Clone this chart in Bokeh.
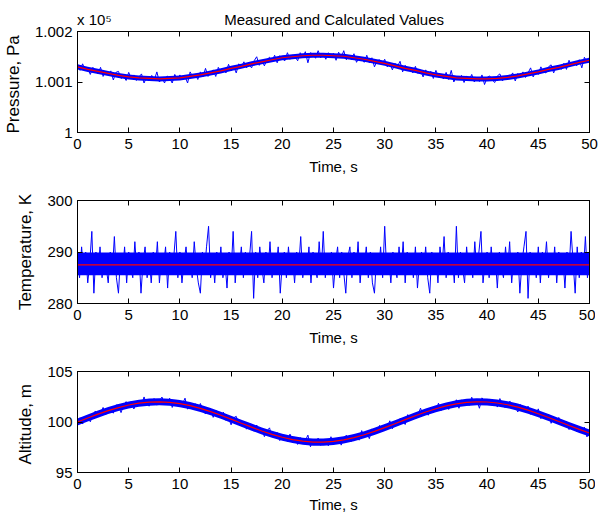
from bokeh.plotting import figure
from bokeh.models import Range1d, LinearAxis, FixedTicker, CustomLabelingPolicy
from bokeh.layouts import column
from bokeh.embed import file_html
from bokeh.resources import INLINE

FONT = "Liberation Sans"
BLUE = "#0000FF"
RED = "#FF0000"

title_text = "Measured and Calculated Values"
exp_text = "x 10\u2075"
x_ticks = [0, 5, 10, 15, 20, 25, 30, 35, 40, 45, 50]
p_ticks = [100000, 100100, 100200]
p_tick_labels = {100000: "1", 100100: "1.001", 100200: "1.002"}
temp_ticks = [280, 290, 300]
alt_ticks = [95, 100, 105]

# time axes
t_calc = list(range(51))
t_meas = [i / 4 for i in range(201)]
t_temp = [i / 5 for i in range(251)]

# ---- Pressure, Pa ----
pressure_calc = [100130, 100125, 100121, 100117, 100113, 100110, 100108, 100107, 100106, 100107,
                 100108, 100111, 100114, 100118, 100122, 100127, 100131, 100136, 100140, 100144,
                 100148, 100150, 100152, 100153, 100153, 100152, 100151, 100148, 100145, 100141,
                 100137, 100132, 100127, 100123, 100118, 100114, 100111, 100108, 100107, 100106,
                 100106, 100107, 100109, 100112, 100116, 100120, 100125, 100129, 100134, 100139,
                 100143]
pressure_lo = [100125, 100120, 100116, 100112, 100108, 100105, 100103, 100102, 100101, 100102,
               100103, 100106, 100109, 100113, 100117, 100122, 100126, 100131, 100135, 100139,
               100143, 100145, 100147, 100148, 100148, 100147, 100146, 100143, 100140, 100136,
               100132, 100127, 100122, 100118, 100113, 100109, 100106, 100103, 100102, 100101,
               100101, 100102, 100104, 100107, 100111, 100115, 100120, 100124, 100129, 100134,
               100138]
pressure_hi = [100135, 100130, 100126, 100122, 100118, 100115, 100113, 100112, 100111, 100112,
               100113, 100116, 100119, 100123, 100127, 100132, 100136, 100141, 100145, 100149,
               100153, 100155, 100157, 100158, 100158, 100157, 100156, 100153, 100150, 100146,
               100142, 100137, 100132, 100128, 100123, 100119, 100116, 100113, 100112, 100111,
               100111, 100112, 100114, 100117, 100121, 100125, 100130, 100134, 100139, 100144,
               100148]
pressure_meas = [
    100135, 100123, 100136, 100123, 100127, 100115, 100129, 100122, 100116, 100129,
    100111, 100121, 100115, 100122, 100104, 100119, 100121, 100107, 100111, 100103,
    100119, 100107, 100114, 100103, 100110, 100116, 100098, 100110, 100102, 100113,
    100104, 100120, 100100, 100109, 100098, 100112, 100107, 100098, 100115, 100105,
    100114, 100104, 100111, 100098, 100120, 100110, 100115, 100105, 100120, 100110,
    100127, 100111, 100118, 100124, 100111, 100129, 100119, 100125, 100118, 100135,
    100122, 100131, 100118, 100136, 100129, 100140, 100128, 100135, 100128, 100142,
    100150, 100133, 100143, 100132, 100144, 100149, 100141, 100153, 100138, 100152,
    100146, 100142, 100158, 100145, 100153, 100150, 100142, 100158, 100149, 100160,
    100138, 100158, 100155, 100147, 100162, 100148, 100156, 100145, 100158, 100150,
    100157, 100143, 100159, 100148, 100162, 100144, 100151, 100144, 100156, 100139,
    100149, 100146, 100139, 100153, 100138, 100148, 100130, 100142, 100144, 100135,
    100145, 100130, 100137, 100124, 100137, 100131, 100141, 100120, 100133, 100123,
    100127, 100118, 100131, 100117, 100123, 100110, 100124, 100115, 100121, 100107,
    100123, 100110, 100112, 100106, 100119, 100105, 100123, 100100, 100111, 100106,
    100113, 100099, 100112, 100104, 100115, 100100, 100108, 100101, 100114, 100095,
    100109, 100112, 100104, 100099, 100112, 100116, 100102, 100111, 100104, 100110,
    100118, 100102, 100117, 100110, 100120, 100109, 100118, 100128, 100110, 100122,
    100115, 100130, 100120, 100118, 100130, 100134, 100118, 100131, 100129, 100125,
    100137, 100125, 100143, 100132, 100138, 100132, 100144, 100128, 100149, 100139,
    100149]

# ---- Temperature, K ----
temp_calc = [287.5] * 51
temp_band_t = [0, 50]
temp_lo = [285.5, 285.5]
temp_hi = [289.9, 289.9]
temp_meas = [
    289, 285, 291, 286, 290, 284, 288, 294, 282, 290,
    286, 291, 285, 289, 287, 284, 290, 286, 293, 285,
    282, 289, 286, 291, 284, 290, 287, 285, 292, 286,
    290, 282, 288, 291, 285, 289, 284, 290, 286, 292,
    284, 289, 287, 291, 283, 290, 286, 289, 294, 285,
    290, 284, 288, 291, 286, 289, 285, 292, 287, 284,
    282, 290, 286, 291, 295, 285, 289, 284, 290, 286,
    291, 285, 288, 283, 290, 286, 294, 284, 289, 287,
    291, 285, 290, 286, 289, 294, 281, 290, 285, 291,
    287, 284, 290, 286, 292, 285, 289, 287, 291, 282,
    288, 290, 285, 291, 286, 289, 284, 290, 287, 293,
    285, 289, 286, 291, 284, 290, 287, 285, 292, 286,
    294, 285, 289, 286, 290, 283, 288, 291, 285, 290,
    286, 282, 289, 291, 285, 290, 286, 292, 284, 289,
    287, 291, 285, 290, 284, 282, 289, 286, 291, 285,
    295, 286, 289, 284, 290, 287, 285, 291, 286, 292,
    284, 290, 286, 289, 285, 291, 283, 288, 290, 286,
    291, 285, 282, 290, 286, 289, 284, 291, 287, 293,
    285, 290, 286, 289, 284, 295, 285, 290, 287, 284,
    291, 286, 289, 285, 292, 286, 290, 294, 284, 288,
    290, 285, 291, 286, 289, 283, 290, 287, 285, 291,
    286, 292, 284, 289, 286, 290, 282, 288, 291, 294,
    281, 290, 286, 289, 285, 291, 284, 290, 287, 292,
    285, 289, 286, 291, 284, 290, 286, 289, 283, 290,
    286, 294, 288, 282, 291, 285, 290, 286, 293, 285,
    289]

# ---- Altitude, m ----
alt_calc = [100.00, 100.40, 100.78, 101.13, 101.43, 101.68, 101.86, 101.97, 102.00, 101.95,
            101.82, 101.62, 101.35, 101.03, 100.67, 100.28, 99.88, 99.49, 99.11, 98.78,
            98.49, 98.26, 98.10, 98.01, 98.01, 98.08, 98.23, 98.45, 98.74, 99.07,
            99.44, 99.83, 100.23, 100.62, 100.99, 101.31, 101.59, 101.80, 101.94, 102.00,
            101.98, 101.88, 101.71, 101.47, 101.17, 100.82, 100.45, 100.05, 99.65, 99.27,
            98.91]
alt_lo = [99.65, 100.05, 100.43, 100.78, 101.08, 101.33, 101.51, 101.62, 101.65, 101.60,
          101.47, 101.27, 101.00, 100.68, 100.32, 99.93, 99.53, 99.14, 98.76, 98.43,
          98.14, 97.91, 97.75, 97.66, 97.66, 97.73, 97.88, 98.10, 98.39, 98.72,
          99.09, 99.48, 99.88, 100.27, 100.64, 100.96, 101.24, 101.45, 101.59, 101.65,
          101.63, 101.53, 101.36, 101.12, 100.82, 100.47, 100.10, 99.70, 99.30, 98.92,
          98.56]
alt_hi = [100.35, 100.75, 101.13, 101.48, 101.78, 102.03, 102.21, 102.32, 102.35, 102.30,
          102.17, 101.97, 101.70, 101.38, 101.02, 100.63, 100.23, 99.84, 99.46, 99.13,
          98.84, 98.61, 98.45, 98.36, 98.36, 98.43, 98.58, 98.80, 99.09, 99.42,
          99.79, 100.18, 100.58, 100.97, 101.34, 101.66, 101.94, 102.15, 102.29, 102.35,
          102.33, 102.23, 102.06, 101.82, 101.52, 101.17, 100.80, 100.40, 100.00, 99.62,
          99.26]
alt_meas = [
    99.84, 100.42, 99.80, 100.38, 100.64, 100.02, 100.75, 101.09, 100.54, 100.87,
    101.44, 100.72, 101.29, 101.13, 100.88, 101.68, 101.67, 100.93, 101.64, 102.02,
    101.52, 102.05, 101.29, 101.82, 102.10, 101.65, 102.48, 101.78, 101.57, 102.14,
    102.31, 101.67, 102.08, 102.47, 101.74, 101.88, 102.35, 101.44, 102.05, 102.09,
    101.50, 101.77, 102.36, 101.27, 101.70, 101.39, 101.81, 101.18, 101.83, 101.19,
    100.79, 101.27, 101.27, 100.46, 101.17, 100.60, 100.67, 100.97, 100.16, 100.46,
    99.72, 100.42, 100.56, 99.82, 99.64, 100.10, 99.29, 99.75, 99.57, 99.08,
    99.70, 99.13, 99.35, 98.55, 99.11, 99.42, 98.54, 98.55, 98.96, 98.16,
    98.49, 98.67, 98.06, 98.80, 98.18, 98.38, 97.78, 98.46, 97.86, 98.16,
    98.70, 97.55, 98.17, 97.85, 98.41, 97.69, 98.25, 97.95, 97.65, 98.54,
    97.84, 98.12, 98.48, 97.71, 98.39, 98.69, 98.18, 98.08, 98.69, 98.60,
    98.20, 99.15, 98.50, 98.98, 98.35, 99.31, 99.07, 99.00, 99.66, 99.03,
    99.68, 99.46, 100.12, 99.33, 99.99, 99.69, 100.35, 100.21, 99.75, 100.73,
    100.27, 100.76, 100.30, 100.71, 101.37, 100.66, 101.15, 100.67, 101.47, 101.15,
    101.07, 101.86, 101.13, 101.60, 101.75, 101.24, 101.94, 101.59, 102.20, 101.36,
    102.19, 101.83, 101.94, 101.64, 102.45, 101.75, 102.16, 101.36, 102.39, 102.07,
    101.74, 102.28, 101.77, 102.15, 101.48, 102.32, 101.72, 101.43, 101.87, 102.05,
    101.35, 101.53, 100.99, 101.72, 101.48, 101.01, 101.57, 100.76, 101.08, 100.75,
    101.30, 100.33, 100.88, 100.46, 100.77, 99.87, 100.41, 100.15, 100.45, 99.71,
    99.69, 100.07, 99.25, 99.80, 99.54, 99.05, 99.51, 99.02, 99.49, 98.52,
    99.07]


def no_labels():
    return CustomLabelingPolicy(code="return new Set()")


def make_fig(y_lo, y_hi, frame_h, top, bottom, y_label, y_ticks, label_standoff=6):
    p = figure(frame_width=512, frame_height=frame_h,
               x_range=Range1d(0, 50), y_range=Range1d(y_lo, y_hi),
               output_backend="svg", toolbar_location=None,
               min_border_left=71, min_border_right=12,
               min_border_top=top, min_border_bottom=bottom,
               x_axis_label="Time, s", y_axis_label=y_label)
    p.title.visible = False
    p.xgrid.grid_line_color = None
    p.ygrid.grid_line_color = None
    p.outline_line_color = "black"
    p.background_fill_color = "white"
    p.border_fill_color = "white"
    p.add_layout(LinearAxis(major_label_policy=no_labels()), "above")
    p.add_layout(LinearAxis(major_label_policy=no_labels()), "right")
    for ax in p.xaxis:
        ax.ticker = FixedTicker(ticks=x_ticks)
    for ax in p.yaxis:
        ax.ticker = FixedTicker(ticks=y_ticks)
    for ax in p.axis:
        ax.axis_line_color = "black"
        ax.major_tick_line_color = "black"
        ax.major_tick_in = 5
        ax.major_tick_out = 0
        ax.minor_tick_line_color = None
        ax.major_label_text_font = FONT
        ax.major_label_text_font_size = "15px"
        ax.major_label_text_color = "black"
        ax.axis_label_text_font = FONT
        ax.axis_label_text_font_style = "normal"
        ax.axis_label_text_color = "black"
    p.below[0].major_label_standoff = 6
    p.below[0].axis_label_text_font_size = "15px"
    p.below[0].axis_label_standoff = label_standoff
    p.left[0].major_label_standoff = 5
    p.left[0].axis_label_text_font_size = "17px"
    p.left[0].axis_label_standoff = 9
    for ax in (p.above[0], p.right[0]):
        ax.major_label_text_font_size = "1px"
        ax.major_label_standoff = 0
    return p


# Pressure subplot (its top axis carries the multiplier and the figure title,
# spread over the frame width with non-breaking spaces)
p1 = make_fig(100000, 100200, 101, 31, 47, "Pressure,  Pa", p_ticks)
p1.left[0].major_label_overrides = p_tick_labels
p1.varea(x=t_calc, y1=pressure_lo, y2=pressure_hi, fill_color=BLUE)
p1.line(t_meas, pressure_meas, line_color=BLUE, line_width=1)
p1.line(t_calc, pressure_calc, line_color=RED, line_width=1.2)
top_ax = p1.above[0]
top_ax.axis_label = exp_text + "\u00a0" * 27 + title_text + "\u00a0" * 35
top_ax.axis_label_text_font_size = "15px"
top_ax.axis_label_standoff = 0

# Temperature subplot
p2 = make_fig(280, 300, 103, 21, 47, "Temperature, K", temp_ticks)
p2.varea(x=temp_band_t, y1=temp_lo, y2=temp_hi, fill_color=BLUE)
p2.line(t_temp, temp_meas, line_color=BLUE, line_width=1)
p2.line(t_calc, temp_calc, line_color=RED, line_width=1.2)

# Altitude subplot
p3 = make_fig(95, 105, 101, 21, 45, "Altitude,  m", alt_ticks, label_standoff=4)
p3.varea(x=t_calc, y1=alt_lo, y2=alt_hi, fill_color=BLUE)
p3.line(t_meas, alt_meas, line_color=BLUE, line_width=1)
p3.line(t_calc, alt_calc, line_color=RED, line_width=1.2)

layout = column(p1, p2, p3, spacing=0)
open("out.html", "w").write(file_html(layout, INLINE))
